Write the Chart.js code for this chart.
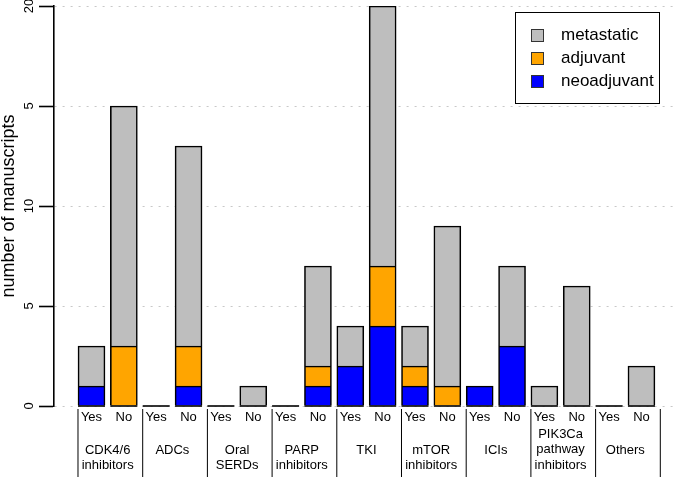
<!DOCTYPE html>
<html>
<head>
<meta charset="utf-8">
<script src="https://cdn.jsdelivr.net/npm/chart.js@4"></script>
<style>
  html, body { margin: 0; padding: 0; background: #fff; }
  #wrap { width: 675px; height: 477px; }
</style>
</head>
<body>
<div id="wrap"><canvas id="chart" width="675" height="477"></canvas></div>
<script>
// drug classes (each has a Yes / No bar)
const groups = [
    ['CDK4/6', 'inhibitors'], ['ADCs'], ['Oral', 'SERDs'], ['PARP', 'inhibitors'], ['TKI'],
    ['mTOR', 'inhibitors'], ['ICIs'], ['PIK3Ca', 'pathway', 'inhibitors'], ['Others']
];
const subLabels = ['Yes', 'No'];

// number of manuscripts per bar (Yes, No for each class)
const neoadjuvant = [1, 0, 0, 1, 0, 0, 0, 1, 2, 4, 1, 0, 1, 3, 0, 0, 0, 0];
const adjuvant    = [0, 3, 0, 2, 0, 0, 0, 1, 0, 3, 1, 1, 0, 0, 0, 0, 0, 0];
const metastatic  = [2, 12, 0, 10, 0, 1, 0, 5, 2, 13, 2, 8, 0, 4, 1, 6, 0, 2];

// y axis ticks as printed on the figure
const yTicks = [0, 5, 10, 15, 20];
const yTickLabels = ['0', '5', '10', '5', '20'];

const FONT = "'Liberation Sans', Arial, sans-serif";
const BAR_W = 27;

const toPoints = arr => arr.map((v, i) => ({ x: i, y: v }));

// extra drawing: bar baselines, y labels, group labels, separators, legend box
const extras = {
    id: 'extras',
    afterDatasetsDraw(chart) {
        const { ctx, scales: { x, y } } = chart;
        const base = y.getPixelForValue(0);
        ctx.save();
        ctx.strokeStyle = '#000';
        ctx.lineWidth = 1.6;
        metastatic.forEach((v, i) => {
            const cx = x.getPixelForValue(i);
            ctx.beginPath();
            ctx.moveTo(cx - BAR_W / 2, base);
            ctx.lineTo(cx + BAR_W / 2, base);
            ctx.stroke();
        });
        ctx.restore();
    },
    afterDraw(chart) {
        const { ctx, scales: { x, y } } = chart;
        ctx.save();
        // y tick labels (rotated like R)
        ctx.fillStyle = '#000';
        ctx.font = '13px ' + FONT;
        ctx.textAlign = 'center';
        ctx.textBaseline = 'middle';
        yTicks.forEach((v, i) => {
            ctx.save();
            ctx.translate(29, y.getPixelForValue(v));
            ctx.rotate(-Math.PI / 2);
            ctx.fillText(yTickLabels[i], 0, 0);
            ctx.restore();
        });
        // separators
        ctx.strokeStyle = '#000';
        ctx.lineWidth = 1;
        for (let k = 0; k <= groups.length; k++) {
            const px = x.getPixelForValue(2 * k) - BAR_W / 2;
            ctx.beginPath();
            ctx.moveTo(px, 409);
            ctx.lineTo(px, 477);
            ctx.stroke();
        }
        // group labels
        ctx.font = '13px ' + FONT;
        groups.forEach((lines, k) => {
            const cx = x.getPixelForValue(2 * k + 0.5);
            const y0 = lines.length === 3 ? 434 : 450;
            lines.forEach((t, j) => ctx.fillText(t, cx, y0 + j * 15.5));
        });
        // legend
        ctx.strokeStyle = '#000';
        ctx.lineWidth = 1;
        ctx.strokeRect(515.5, 12.5, 144, 91);
        ctx.font = '17px ' + FONT;
        ctx.textAlign = 'left';
        const items = chart.data.datasets.slice().reverse();
        items.forEach((ds, j) => {
            const cy = 35.5 + j * 23;
            ctx.fillStyle = ds.backgroundColor;
            ctx.fillRect(531.5, cy - 6, 12, 12);
            ctx.strokeStyle = '#333';
            ctx.strokeRect(531.5, cy - 6, 12, 12);
            ctx.fillStyle = '#000';
            ctx.fillText(ds.label, 561, cy);
        });
        ctx.restore();
    }
};

const ctx = document.getElementById('chart').getContext('2d');
new Chart(ctx, {
    type: 'bar',
    data: {
        datasets: [
            { label: 'neoadjuvant', data: toPoints(neoadjuvant), backgroundColor: '#0000FF' },
            { label: 'adjuvant', data: toPoints(adjuvant), backgroundColor: '#FFA500' },
            { label: 'metastatic', data: toPoints(metastatic), backgroundColor: '#BEBEBE' }
        ]
    },
    options: {
        responsive: false,
        animation: false,
        layout: { padding: { top: 6, right: 0, left: 0, bottom: 0 } },
        datasets: {
            bar: {
                barThickness: BAR_W,
                borderColor: '#000',
                borderWidth: 1.6,
                borderSkipped: 'start',
                stack: 's'
            }
        },
        plugins: {
            legend: { display: false },
            tooltip: { enabled: false }
        },
        scales: {
            x: {
                type: 'linear',
                stacked: true,
                offset: false,
                min: -1.159,
                max: 18.037,
                grid: { display: false, drawTicks: false, offset: false },
                border: { display: false },
                afterBuildTicks: scale => {
                    scale.ticks = metastatic.map((v, i) => ({ value: i }));
                },
                afterFit: scale => { scale.height = 71; },
                ticks: {
                    autoSkip: false,
                    maxRotation: 0,
                    padding: 4,
                    color: '#000',
                    font: { family: FONT, size: 13 },
                    callback: value => subLabels[value % 2]
                }
            },
            y: {
                stacked: true,
                min: 0,
                max: 20,
                z: 1,
                afterBuildTicks: scale => {
                    scale.ticks = yTicks.map(v => ({ value: v }));
                },
                afterFit: scale => { scale.width = 54; },
                grid: {
                    color: '#C8C8C8',
                    lineWidth: 1,
                    tickLength: 15,
                    tickColor: '#000',
                    tickWidth: 1.6
                },
                border: { display: true, color: '#000', width: 1.6, dash: [2, 6] },
                ticks: { display: false },
                title: {
                    display: true,
                    text: 'number of manuscripts',
                    color: '#000',
                    font: { family: FONT, size: 18, lineHeight: 1 },
                    padding: 0
                }
            }
        }
    },
    plugins: [extras]
});
</script>
</body>
</html>
